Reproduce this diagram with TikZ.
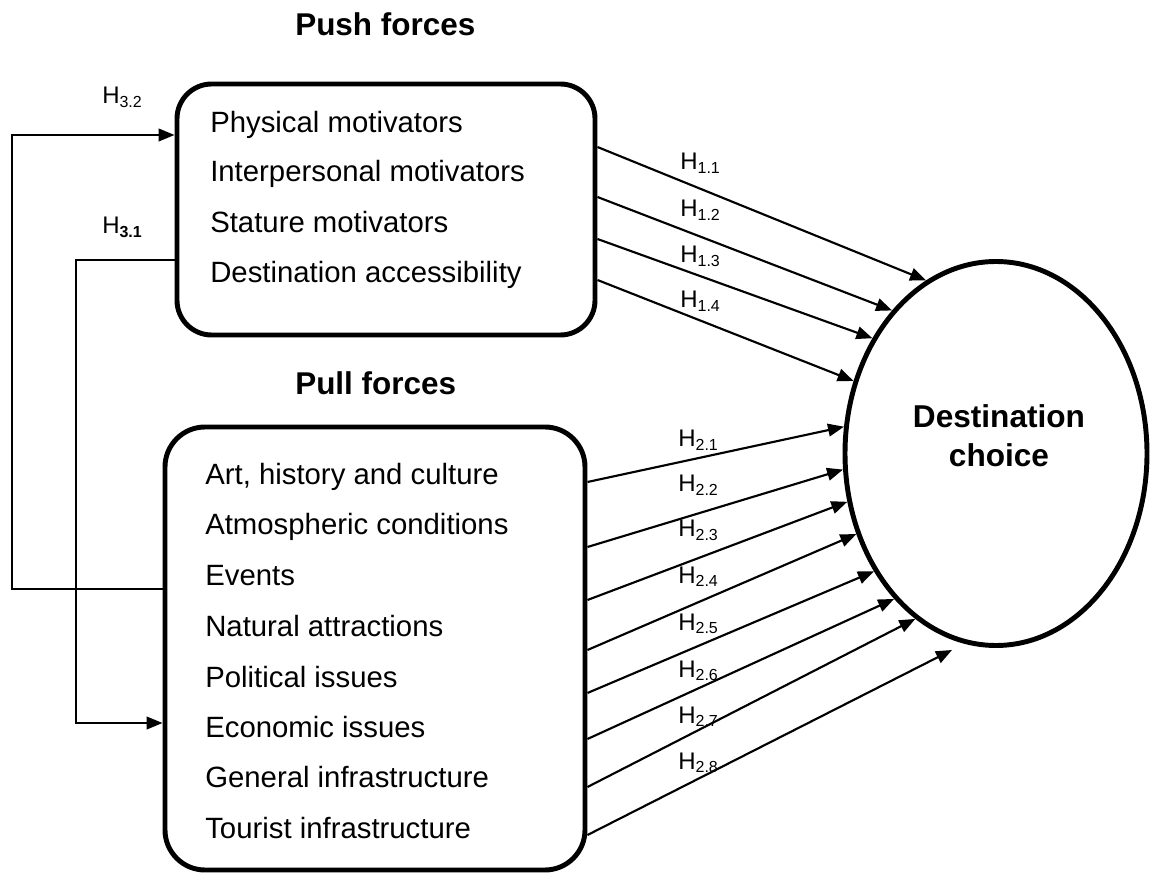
\documentclass[tikz,border=0pt]{standalone}
\usepackage{fontspec}
\setmainfont{Liberation Sans}
\usetikzlibrary{arrows.meta,shapes.geometric}
% hypothesis label: H with a lowered, smaller index
\newcommand{\hlab}[1]{H\raisebox{-2.6pt}{\fontsize{12}{12}\selectfont #1}}

\begin{document}
\begin{tikzpicture}[x=0.75pt,y=-0.75pt,
  box/.style={draw, line width=3.7pt, rounded corners=26pt, inner sep=0pt},
  item/.style={anchor=base west, inner sep=0pt, font=\fontsize{22}{26}\selectfont},
  heading/.style={anchor=base west, inner sep=0pt, font=\fontsize{23.6}{28}\selectfont\bfseries},
  hyp/.style={anchor=base west, inner sep=0pt, font=\fontsize{18}{20}\selectfont},
  link/.style={line width=1.6pt, -{Triangle[length=12pt,width=9.5pt]}}]
\useasboundingbox (0,0) rectangle (1150,873);

% main shapes
\node[box, minimum width=313.5pt, minimum height=188.25pt] (push) at (386,209.5) {};
\node[box, rounded corners=30pt, minimum width=315pt, minimum height=332.25pt] (pull) at (375,648.5) {};
\node[draw, ellipse, line width=3.7pt, inner sep=0pt, minimum width=226.5pt, minimum height=288pt] (dc) at (996,453.5) {};
\node[align=center, inner sep=0pt, font=\fontsize{23.7}{29.25}\selectfont\bfseries] (dctext) at (999,436) {Destination\\choice};

% headings
\node[heading] (pushtitle) at (295,36) {Push forces};
\node[heading] (pulltitle) at (295,395) {Pull forces};

% push factors
\node[item] (p1) at (210,133) {Physical motivators};
\node[item] (p2) at (210,182) {Interpersonal motivators};
\node[item] (p3) at (210,233) {Stature motivators};
\node[item] (p4) at (210,283) {Destination accessibility};

% pull factors
\node[item] (q1) at (205,484) {Art, history and culture};
\node[item] (q2) at (205,535) {Atmospheric conditions};
\node[item] (q3) at (205,585) {Events};
\node[item] (q4) at (205,636) {Natural attractions};
\node[item] (q5) at (205,687) {Political issues};
\node[item] (q6) at (205,737) {Economic issues};
\node[item] (q7) at (205,787) {General infrastructure};
\node[item] (q8) at (205,838) {Tourist infrastructure};

% push -> destination choice
\draw[link] (push.east |- 0,147) -- (dc.112.2);
\draw[link] (push.east |- 0,197) -- (dc.126.0);
\draw[link] (push.east |- 0,239) -- (dc.137.4);
\draw[link] (push.east |- 0,280) -- (dc.153.4);

% pull -> destination choice
\coordinate (lastend) at (952,650);
\draw[link] (pull.east |- 0,482) -- (dc.170.5);
\draw[link] (pull.east |- 0,547) -- (dc.186.2);
\draw[link] (pull.east |- 0,600) -- (dc.198.1);
\draw[link] (pull.east |- 0,650) -- (dc.210.3);
\draw[link] (pull.east |- 0,693) -- (dc.224.3);
\draw[link] (pull.east |- 0,739) -- (dc.235.0);
\draw[link] (pull.east |- 0,787) -- (dc.244.5);
\draw[link] (pull.east |- 0,835) -- (lastend);

% feedback paths between the two boxes
\coordinate (outerrail) at (12,0);
\coordinate (innerrail) at (76,0);
\draw[link] (pull.west |- 0,589) -| (outerrail |- 0,135) -- (push.west |- 0,135);
\draw[link] (push.west |- 0,260) -| (innerrail |- 0,723) -- (pull.west |- 0,723);

% hypothesis labels
\node[hyp] (h32) at (102,104) {\hlab{3.2}};
\node[hyp] (h31) at (102,234) {\hlab{\textbf{3.1}}};

\node[hyp] (h11) at (680,170) {\hlab{1.1}};
\node[hyp] (h12) at (680,217) {\hlab{1.2}};
\node[hyp] (h13) at (680,263) {\hlab{1.3}};
\node[hyp] (h14) at (680,308) {\hlab{1.4}};

\node[hyp] (h21) at (678,447) {\hlab{2.1}};
\node[hyp] (h22) at (678,492) {\hlab{2.2}};
\node[hyp] (h23) at (678,537) {\hlab{2.3}};
\node[hyp] (h24) at (678,583) {\hlab{2.4}};
\node[hyp] (h25) at (678,630) {\hlab{2.5}};
\node[hyp] (h26) at (678,677) {\hlab{2.6}};
\node[hyp] (h27) at (678,723) {\hlab{2.7}};
\node[hyp] (h28) at (678,769) {\hlab{2.8}};
\end{tikzpicture}
\end{document}
